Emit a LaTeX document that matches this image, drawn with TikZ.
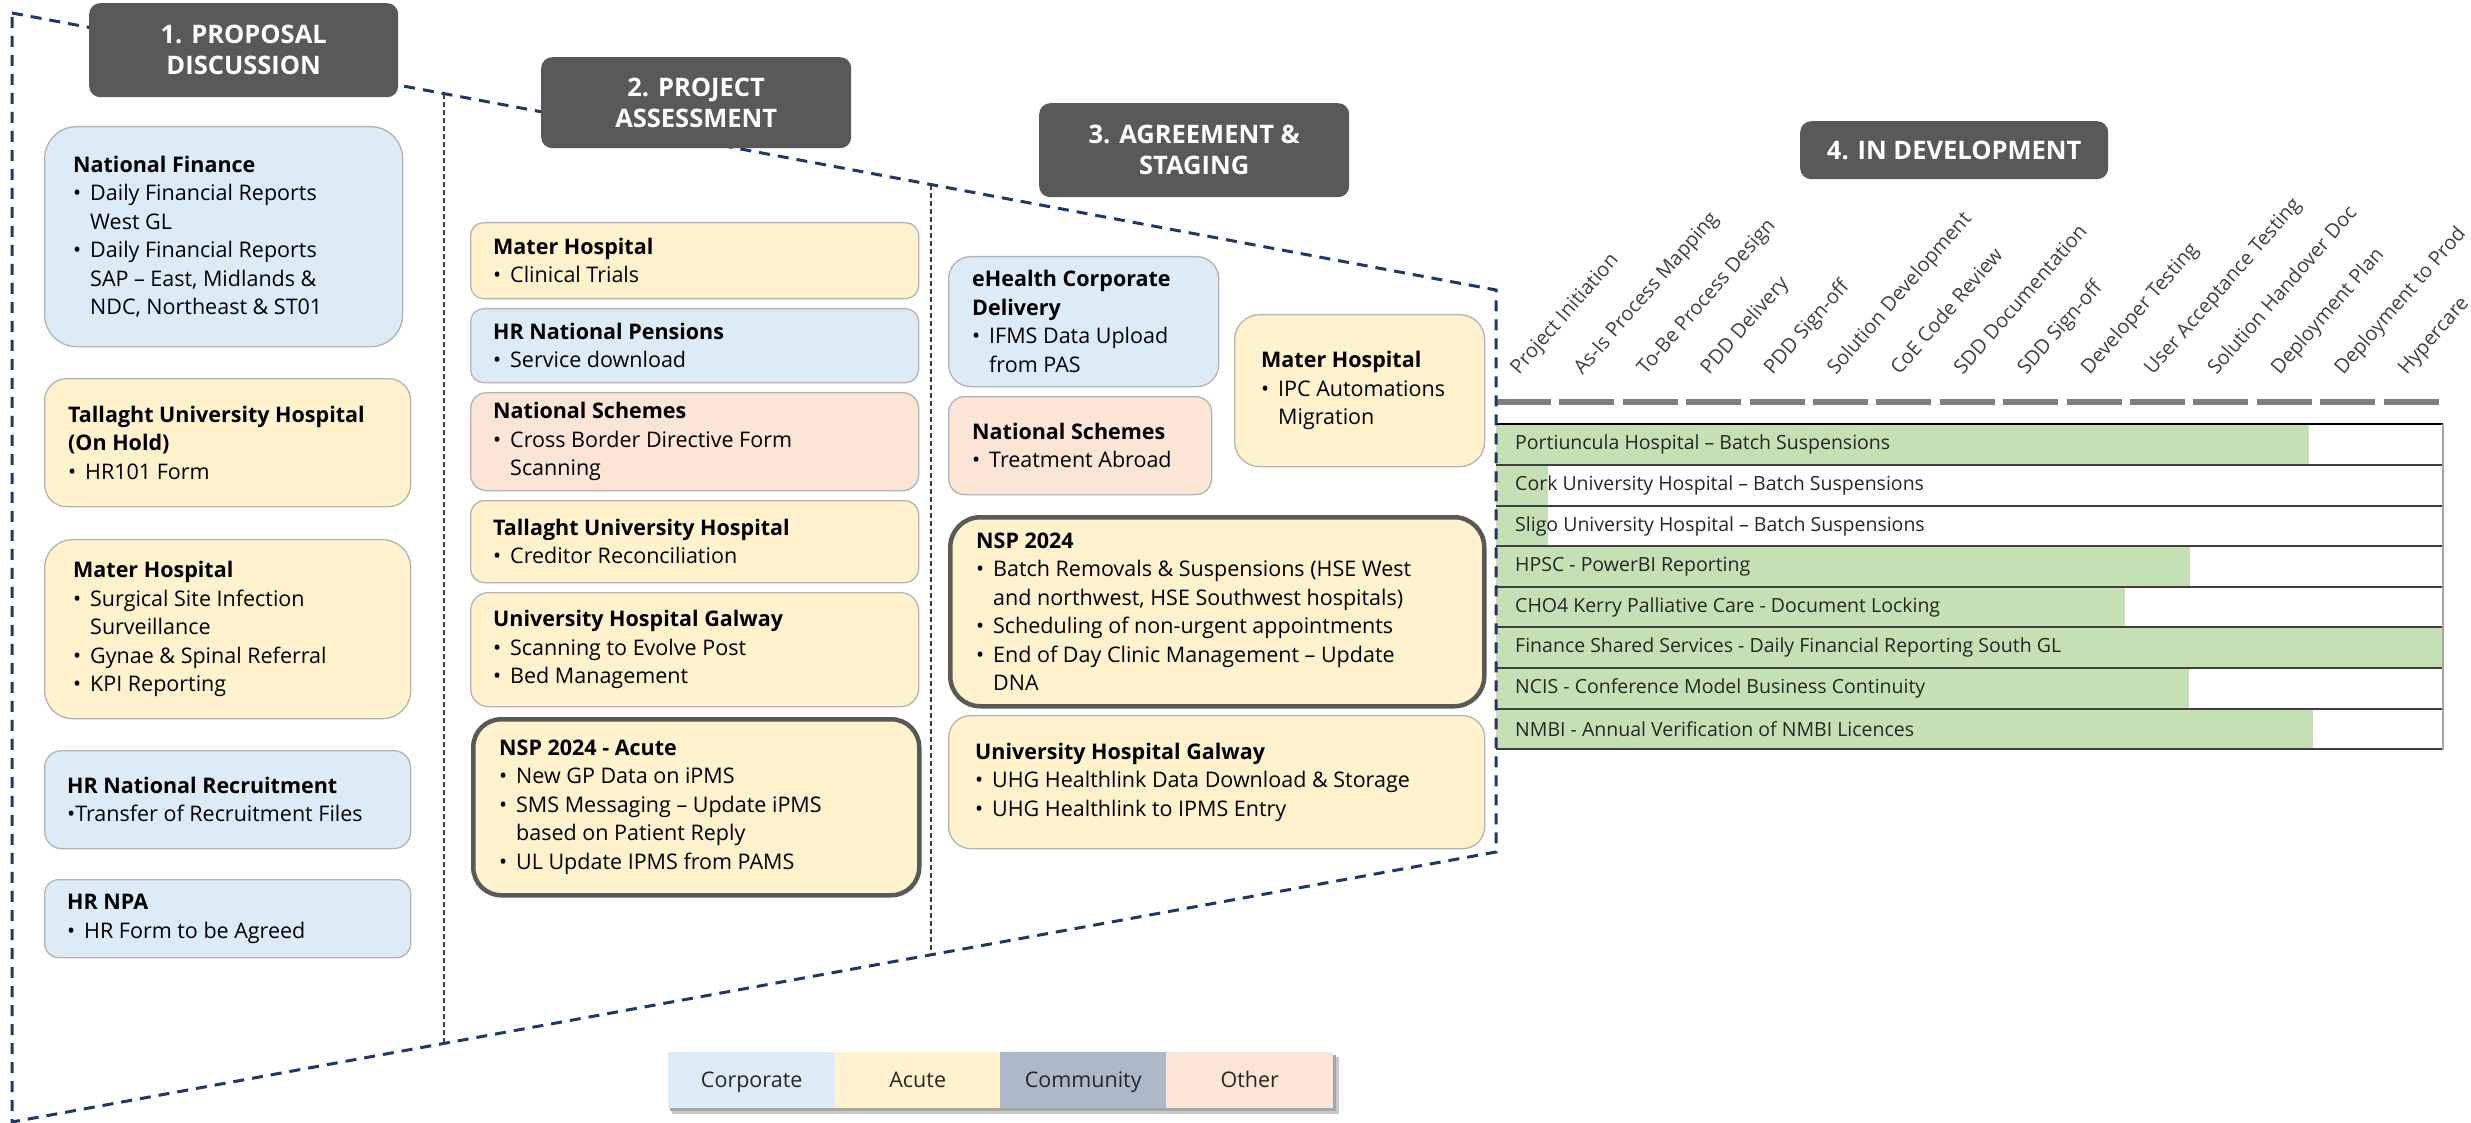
\documentclass[tikz,border=0pt]{standalone}
\usepackage{fontspec}
\setmainfont{Open Sans}
\usetikzlibrary{calc}
\definecolor{navy}{HTML}{203864}
\definecolor{hdr}{HTML}{595959}
\definecolor{corp}{HTML}{DDEBF7}
\definecolor{acute}{HTML}{FFF2CC}
\definecolor{other}{HTML}{FBE5D6}
\definecolor{comm}{HTML}{ADB9CA}
\definecolor{cardline}{HTML}{B4B4B4}
\definecolor{prog}{HTML}{C5E0B4}
\definecolor{sepc}{HTML}{404040}
\definecolor{txt}{HTML}{262626}
\definecolor{gdash}{HTML}{7F7F7F}
\definecolor{rowline}{HTML}{404040}
\definecolor{rborder}{HTML}{A6A6A6}

\newcommand\bodyf{\fontsize{21.5}{28.5}\selectfont}
\newcommand\hdrf{\fontsize{25.5}{31}\selectfont\bfseries}
\newcommand\rowf{\fontsize{19.5}{22}\selectfont}
\newcommand\bu{\makebox[17pt][l]{\textbullet}}
\newcommand\ind{\hspace*{17pt}}

\tikzset{
  card/.style={draw=cardline, line width=1.3pt, anchor=north west, inner sep=0pt},
  thickcard/.style={draw=hdr, line width=4.5pt, anchor=north west, inner sep=0pt},
  ctext/.style={anchor=west, align=left, inner sep=0pt, font=\bodyf, text=black},
  hdrbox/.style={fill=hdr, rounded corners=11pt, anchor=north west, inner sep=0pt,
    align=center, text=white, font=\hdrf},
  navydash/.style={draw=navy, line width=3pt, dash pattern=on 11pt off 8pt},
  sepline/.style={draw=sepc, line width=1.3pt, dash pattern=on 5pt off 3pt},
  graydash/.style={draw=gdash, line width=5.5pt, dash pattern=on 55pt off 8.4pt},
  stagelbl/.style={rotate=49, anchor=base west, inner sep=0pt,
    font=\fontsize{20}{24}\selectfont, text=sepc},
  rowt/.style={anchor=west, inner sep=0pt, font=\rowf, text=txt},
  leg/.style={anchor=north west, inner sep=0pt, minimum height=56pt,
    text height=15.5pt, text depth=0pt, font=\bodyf, text=txt},
}

% name, x1, y1, x2, y2, style, pad, text
\newcommand\card[8]{%
  \node[#6, minimum width={#4pt-#2pt}, minimum height={#5pt-#3pt}] (#1) at (#2,#3) {};
  \node[ctext] (#1-t) at ([xshift=#7pt]#1.west) {#8};
}

\begin{document}
\begin{tikzpicture}[x=1pt, y=-1pt]
\useasboundingbox (0,0) rectangle (2471,1123);
\fill[white] (0,0) rectangle (2471,1123);

% ---------- Stage 4 table ----------
\fill[prog] (1496,424) rectangle (2309,465);
\fill[prog] (1496,465) rectangle (1548,506);
\fill[prog] (1496,506) rectangle (1548,546);
\fill[prog] (1496,546) rectangle (2190,587);
\fill[prog] (1496,587) rectangle (2125,627);
\fill[prog] (1496,627) rectangle (2443,668);
\fill[prog] (1496,668) rectangle (2189,709);
\fill[prog] (1496,709) rectangle (2313,749);
\draw[black, line width=2pt] (1496,424) -- (2443,424);
\foreach \yy in {465,506,546,587,627,668,709,749}
  \draw[rowline, line width=2pt] (1496,\yy) -- (2443,\yy);
\draw[rborder, line width=2.5pt] (2443,424) -- (2443,750);

\node[rowt] (row1) at (1515,444.5) {Portiuncula Hospital – Batch Suspensions};
\node[rowt] (row2) at (1515,485.5) {Cork University Hospital – Batch Suspensions};
\node[rowt] (row3) at (1515,526) {Sligo University Hospital – Batch Suspensions};
\node[rowt] (row4) at (1515,566.5) {HPSC - PowerBI Reporting};
\node[rowt] (row5) at (1515,607) {CHO4 Kerry Palliative Care - Document Locking};
\node[rowt] (row6) at (1515,647.5) {Finance Shared Services - Daily Financial Reporting South GL};
\node[rowt] (row7) at (1515,688.5) {NCIS - Conference Model Business Continuity};
\node[rowt] (row8) at (1515,729) {NMBI - Annual Verification of NMBI Licences};

% gray dashed step line
\coordinate (gd1) at (1496,402);
\coordinate (gd2) at (2443,402);
\draw[graydash] (gd1) -- (gd2);

% step labels
\foreach \t [count=\i from 0] in {Project Initiation, As-Is Process Mapping, To-Be Process Design,
  PDD Delivery, PDD Sign-off, Solution Development, CoE Code Review, SDD Documentation,
  SDD Sign-off, Developer Testing, User Acceptance Testing, Solution Handover Doc,
  Deployment Plan, Deployment to Prod, Hypercare}
  \node[stagelbl] (lab\i) at ({1519+63.4*\i},376) {\t};

% ---------- funnel outline ----------
\coordinate (tl) at (12,13);
\coordinate (tr) at (1496,290);
\coordinate (br) at (1496,852);
\coordinate (bl) at (12,1122);
\draw[navydash] (tl) -- (tr) -- (br) -- (bl) -- cycle;

\coordinate (s1t) at (444,94);
\coordinate (s1b) at (444,1043);
\coordinate (s2t) at (931,185);
\coordinate (s2b) at (931,954);
\draw[sepline] (s1t) -- (s1b);
\draw[sepline] (s2t) -- (s2b);

% ---------- headers ----------
\node[hdrbox, minimum width=309pt, minimum height=94pt] (h1) at (89,3) {1. PROPOSAL\\DISCUSSION};
\node[hdrbox, minimum width=310pt, minimum height=91pt] (h2) at (541,57) {2. PROJECT\\ASSESSMENT};
\node[hdrbox, minimum width=310pt, minimum height=94pt] (h3) at (1039,103) {3. AGREEMENT \&\\STAGING};
\node[hdrbox, minimum width=308pt, minimum height=58pt] (h4) at (1800,121) {4. IN DEVELOPMENT};

% ---------- column 1 ----------
\card{nf}{44}{126}{402}{346}{card, fill=corp, rounded corners=32pt}{29}{%
  \textbf{National Finance}\\ \bu Daily Financial Reports\\ \ind West GL\\
  \bu Daily Financial Reports\\ \ind SAP – East, Midlands \&\\ \ind NDC, Northeast \& ST01}
\card{tuh1}{44}{378}{410}{506}{card, fill=acute, rounded corners=22pt}{24}{%
  \textbf{Tallaght University Hospital}\\ \textbf{(On Hold)}\\ \bu HR101 Form}
\card{mh1}{44}{539}{410}{718}{card, fill=acute, rounded corners=28pt}{29}{%
  \textbf{Mater Hospital}\\ \bu Surgical Site Infection\\ \ind Surveillance\\
  \bu Gynae \& Spinal Referral\\ \bu KPI Reporting}
\card{hrnr}{44}{750}{410}{848}{card, fill=corp, rounded corners=17pt}{23}{%
  \textbf{HR National Recruitment}\\ \textbullet Transfer of Recruitment Files}
\card{hrnpa}{44}{879}{410}{957}{card, fill=corp, rounded corners=14pt}{23}{%
  \textbf{HR NPA}\\ \bu HR Form to be Agreed}

% ---------- column 2 ----------
\card{mh2}{470}{222}{918}{298}{card, fill=acute, rounded corners=13pt}{23}{%
  \textbf{Mater Hospital}\\ \bu Clinical Trials}
\card{hrnp}{470}{308}{918}{382}{card, fill=corp, rounded corners=13pt}{23}{%
  \textbf{HR National Pensions}\\ \bu Service download}
\card{ns2}{470}{392}{918}{490}{card, fill=other, rounded corners=16pt}{23}{%
  \textbf{National Schemes}\\ \bu Cross Border Directive Form\\ \ind Scanning}
\card{tuh2}{470}{500}{918}{582}{card, fill=acute, rounded corners=14pt}{23}{%
  \textbf{Tallaght University Hospital}\\ \bu Creditor Reconciliation}
\card{uhg2}{470}{592}{918}{706}{card, fill=acute, rounded corners=18pt}{23}{%
  \textbf{University Hospital Galway}\\ \bu Scanning to Evolve Post\\ \bu Bed Management}
\card{nspa}{471}{717}{917}{893}{thickcard, fill=acute, rounded corners=28pt}{28}{%
  \textbf{NSP 2024 - Acute}\\ \bu New GP Data on iPMS\\ \bu SMS Messaging – Update iPMS\\
  \ind based on Patient Reply\\ \bu UL Update IPMS from PAMS}

% ---------- column 3 ----------
\card{eh}{948}{256}{1218}{386}{card, fill=corp, rounded corners=22pt}{24}{%
  \textbf{eHealth Corporate}\\ \textbf{Delivery}\\ \bu IFMS Data Upload\\ \ind from PAS}
\card{ns3}{948}{396}{1211}{494}{card, fill=other, rounded corners=16pt}{24}{%
  \textbf{National Schemes}\\ \bu Treatment Abroad}
\card{mh3}{1234}{314}{1484}{466}{card, fill=acute, rounded corners=25pt}{27}{%
  \textbf{Mater Hospital}\\ \bu IPC Automations\\ \ind Migration}
\card{nsp}{948}{515}{1482}{704}{thickcard, fill=acute, rounded corners=30pt}{28}{%
  \textbf{NSP 2024}\\ \bu Batch Removals \& Suspensions (HSE West\\
  \ind and northwest, HSE Southwest hospitals)\\ \bu Scheduling of non-urgent appointments\\
  \bu End of Day Clinic Management – Update\\ \ind DNA}
\card{uhg3}{948}{715}{1484}{848}{card, fill=acute, rounded corners=22pt}{27}{%
  \textbf{University Hospital Galway}\\ \bu UHG Healthlink Data Download \& Storage\\
  \bu UHG Healthlink to IPMS Entry}

% ---------- legend ----------
\fill[black!22] (672,1057) rectangle (1339,1114);
\fill[black!35] (670,1055) rectangle (1336,1111);
\node[leg, fill=corp, minimum width=167pt] (lg1) at (668,1052) {Corporate};
\node[leg, fill=acute, minimum width=165pt] (lg2) at (835,1052) {Acute};
\node[leg, fill=comm, minimum width=166pt] (lg3) at (1000,1052) {Community};
\node[leg, fill=other, minimum width=167pt] (lg4) at (1166,1052) {Other};
\end{tikzpicture}
\end{document}
